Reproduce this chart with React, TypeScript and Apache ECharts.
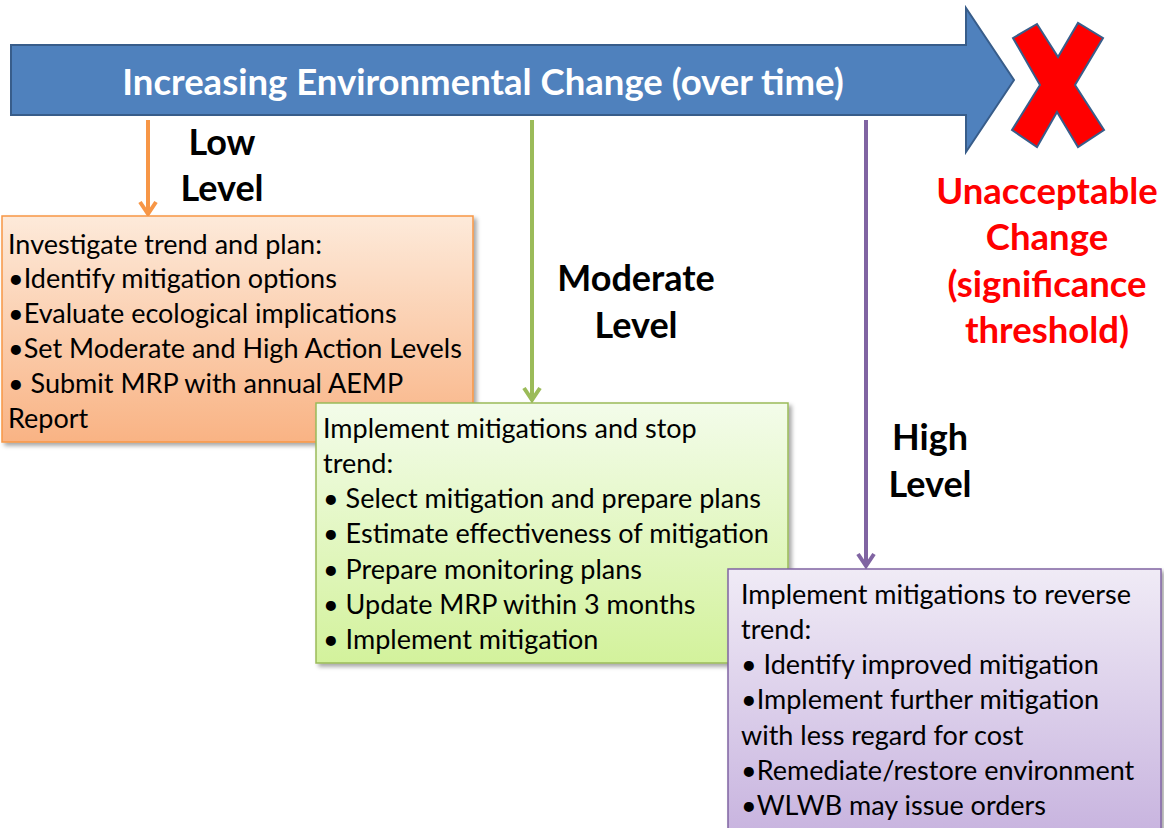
import React, { useEffect, useRef } from "react";
import * as echarts from "echarts";

const titleText = "Increasing Environmental Change (over time)";
const lowLabel = ["Low", "Level"];
const moderateLabel = ["Moderate", "Level"];
const highLabel = ["High", "Level"];
const thresholdLabel = ["Unacceptable", "Change", "(significance", "threshold)"];
const lowLines = [
  "Investigate trend and plan:",
  "•Identify mitigation options",
  "•Evaluate ecological implications",
  "•Set Moderate and High Action Levels",
  "• Submit MRP with annual AEMP",
  "Report",
];
const moderateLines = [
  "Implement mitigations and stop",
  "trend:",
  "• Select mitigation and prepare plans",
  "• Estimate effectiveness of mitigation",
  "• Prepare monitoring plans",
  "• Update MRP within 3 months",
  "• Implement mitigation",
];
const highLines = [
  "Implement mitigations to reverse",
  "trend:",
  "• Identify improved mitigation",
  "•Implement further mitigation",
  "with less regard for cost",
  "•Remediate/restore environment",
  "•WLWB may issue orders",
];

const FONT = "Lato, 'Open Sans', sans-serif";

function textLines(lines: string[], x: number, y0: number, step: number, size: number, weight: string, color: string, align: string, z: number) {
  return lines.map((t, i) => ({
    type: "text",
    z,
    style: {
      text: t,
      x,
      y: y0 + i * step,
      fill: color,
      font: `${weight} ${size}px ${FONT}`,
      textAlign: align,
      textVerticalAlign: "middle",
    },
  }));
}

function downArrow(x: number, y1: number, y2: number, color: string, z: number) {
  return [
    { type: "line", z, shape: { x1: x, y1, x2: x, y2 }, style: { stroke: color, lineWidth: 4 } },
    {
      type: "polyline",
      z,
      shape: { points: [[x - 8, y2 - 12], [x, y2], [x + 8, y2 - 12]] },
      style: { stroke: color, lineWidth: 4, fill: null },
    },
  ];
}

function box(x: number, y: number, w: number, h: number, top: string, bottom: string, stroke: string, z: number) {
  return {
    type: "rect",
    z,
    shape: { x, y, width: w, height: h },
    style: {
      fill: new echarts.graphic.LinearGradient(0, 0, 0, 1, [
        { offset: 0, color: top },
        { offset: 1, color: bottom },
      ]),
      stroke,
      lineWidth: 1.5,
      shadowBlur: 4,
      shadowOffsetX: 3,
      shadowOffsetY: 3,
      shadowColor: "rgba(0,0,0,0.35)",
    },
  };
}

export default function App() {
  const ref = useRef<HTMLDivElement>(null);
  useEffect(() => {
    if (!ref.current) return;
    const chart = echarts.init(ref.current, null, { renderer: "svg" });
    const elements: any[] = [
      // big arrow
      {
        type: "polygon",
        z: 1,
        shape: {
          points: [
            [11, 45], [966, 45], [966, 8], [1014, 80], [966, 152], [966, 115], [11, 115],
          ],
        },
        style: { fill: "#4F81BD", stroke: "#385D8A", lineWidth: 2 },
      },
      {
        type: "text",
        z: 2,
        style: {
          text: titleText,
          x: 483,
          y: 81,
          fill: "#FFFFFF",
          font: `bold 36.5px ${FONT}`,
          textAlign: "center",
          textVerticalAlign: "middle",
        },
      },
      // red X
      {
        type: "polygon",
        z: 1,
        shape: {
          points: [
            [1013, 38], [1037, 24], [1058, 57], [1078, 23], [1103, 38], [1075, 85],
            [1104, 130], [1078, 147], [1057, 112], [1037, 147], [1012, 130], [1040, 85],
          ],
        },
        style: { fill: "#FF0000", stroke: "#385D8A", lineWidth: 2 },
      },
      ...textLines(thresholdLabel, 1047, 190, 46.3, 36.5, "bold", "#FF0000", "center", 2),
      ...textLines(lowLabel, 222, 141, 46, 36, "bold", "#000000", "center", 2),
      ...textLines(moderateLabel, 636, 277, 47, 36, "bold", "#000000", "center", 2),
      ...textLines(highLabel, 930, 436, 47, 36, "bold", "#000000", "center", 2),
      ...downArrow(148, 120, 214, "#F79646", 3),
      ...downArrow(532, 120, 400, "#9BBB59", 3),
      ...downArrow(866, 120, 566, "#8064A2", 3),
      box(2, 216, 471, 226, "#FDEADA", "#F9B384", "#F79646", 10),
      ...textLines(lowLines, 8, 243, 34.8, 27, "normal", "#000000", "left", 11),
      box(316, 403, 472, 260, "#F3FCEA", "#D3F29C", "#9BBB59", 20),
      ...textLines(moderateLines, 323, 427, 35.3, 27, "normal", "#000000", "left", 21),
      box(728, 569, 433, 264, "#F0EBF6", "#C8B4DF", "#8064A2", 30),
      ...textLines(highLines, 741, 593, 35.3, 27, "normal", "#000000", "left", 31),
    ];
    chart.setOption({
      animation: false,
      backgroundColor: "#FFFFFF",
      graphic: { elements },
    });
    return () => chart.dispose();
  }, []);
  return (
    <div
      ref={ref}
      style={{ position: "absolute", left: 0, top: 0, width: 1164, height: 828 }}
    />
  );
}
